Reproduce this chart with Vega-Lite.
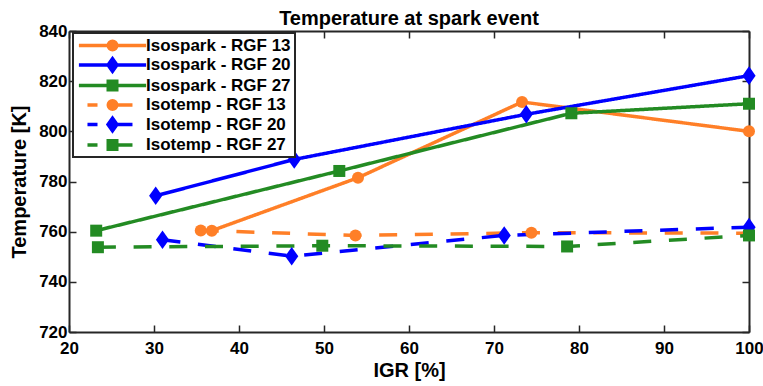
{
  "$schema": "https://vega.github.io/schema/vega-lite/v6.json",
  "width": 680,
  "height": 301,
  "autosize": "none",
  "padding": {"left": 69, "top": 31, "right": 14, "bottom": 54},
  "background": "white",
  "title": {"text": "Temperature at spark event", "font": "Liberation Sans", "fontSize": 20, "fontWeight": "bold", "color": "#000000", "offset": -7, "frame": "group"},
  "config": {
    "view": {"stroke": null},
    "axis": {
      "grid": false,
      "domainColor": "#262626",
      "domainWidth": 2,
      "tickColor": "#262626",
      "tickWidth": 1.5,
      "tickSize": -7,
      "labelFont": "Liberation Sans",
      "labelFontSize": 17,
      "labelFontWeight": "bold",
      "labelColor": "#000000",
      "titleFont": "Liberation Sans",
      "titleFontSize": 20,
      "titleFontWeight": "bold",
      "titleColor": "#000000"
    }
  },
  "data": {
    "values": [
      {"series": "Isospark - RGF 13", "igr": 36.8, "T": 760.4},
      {"series": "Isospark - RGF 13", "igr": 54.0, "T": 781.5},
      {"series": "Isospark - RGF 13", "igr": 73.3, "T": 811.7},
      {"series": "Isospark - RGF 13", "igr": 100, "T": 800.0},
      {"series": "Isospark - RGF 20", "igr": 30.2, "T": 774.3},
      {"series": "Isospark - RGF 20", "igr": 46.5, "T": 788.8},
      {"series": "Isospark - RGF 20", "igr": 73.8, "T": 806.8},
      {"series": "Isospark - RGF 20", "igr": 100, "T": 822.2},
      {"series": "Isospark - RGF 27", "igr": 23.2, "T": 760.4},
      {"series": "Isospark - RGF 27", "igr": 51.8, "T": 784.2},
      {"series": "Isospark - RGF 27", "igr": 79.1, "T": 807.2},
      {"series": "Isospark - RGF 27", "igr": 100, "T": 811.0},
      {"series": "Isotemp - RGF 13", "igr": 35.5, "T": 760.5},
      {"series": "Isotemp - RGF 13", "igr": 53.7, "T": 758.5},
      {"series": "Isotemp - RGF 13", "igr": 74.4, "T": 759.6},
      {"series": "Isotemp - RGF 13", "igr": 100, "T": 759.4},
      {"series": "Isotemp - RGF 20", "igr": 31.0, "T": 756.8},
      {"series": "Isotemp - RGF 20", "igr": 46.2, "T": 750.2},
      {"series": "Isotemp - RGF 20", "igr": 71.2, "T": 758.5},
      {"series": "Isotemp - RGF 20", "igr": 100, "T": 761.8},
      {"series": "Isotemp - RGF 27", "igr": 23.4, "T": 753.8},
      {"series": "Isotemp - RGF 27", "igr": 49.8, "T": 754.4},
      {"series": "Isotemp - RGF 27", "igr": 78.6, "T": 754.1},
      {"series": "Isotemp - RGF 27", "igr": 100, "T": 758.5}
    ]
  },
  "layer": [
    {
      "mark": {"type": "line", "strokeWidth": 3.5},
      "encoding": {
        "x": {"field": "igr", "type": "quantitative", "scale": {"domain": [20, 100], "nice": false},
              "axis": {"orient": "bottom", "values": [20, 30, 40, 50, 60, 70, 80, 90, 100], "labelFlush": false, "labelPadding": 15, "title": "IGR [%]", "titlePadding": 4}},
        "y": {"field": "T", "type": "quantitative", "scale": {"domain": [720, 840], "nice": false, "zero": false},
              "axis": {"orient": "left", "values": [720, 740, 760, 780, 800, 820, 840], "labelPadding": 9, "title": "Temperature [K]", "titlePadding": 9}},
        "color": {"field": "series", "type": "nominal",
          "scale": {"domain": ["Isospark - RGF 13", "Isospark - RGF 20", "Isospark - RGF 27", "Isotemp - RGF 13", "Isotemp - RGF 20", "Isotemp - RGF 27"],
                    "range": ["#FF7F27", "#0000FF", "#238B23", "#FF7F27", "#0000FF", "#238B23"]},
          "legend": {
            "orient": "none", "legendX": 4, "legendY": 2, "title": null, "direction": "vertical",
            "fillColor": "white", "strokeColor": "#262626", "padding": 4,
            "labelFont": "Liberation Sans", "labelFontSize": 17, "labelFontWeight": "bold", "labelColor": "#000000",
            "symbolSize": 144, "symbolStrokeWidth": 0, "symbolOffset": 27, "labelOffset": 25, "rowPadding": 1.5,
            "encode": {
              "legend": {"update": {"strokeWidth": {"value": 2}}},
              "symbols": {"update": {
                "shape": {"signal": "(indexof(datum.value, 'Isotemp') == 0 ? 'M-4.17,-0.29L-2.5,-0.29L-2.5,0.29L-4.17,0.29ZM0.83,-0.29L3.33,-0.29L3.33,0.29L0.83,0.29Z' : 'M-5.6,-0.29L5.6,-0.29L5.6,0.29L-5.6,0.29Z') + (indexof(datum.value, '13') > 0 ? 'M1,0L0.924,0.383L0.707,0.707L0.383,0.924L0,1L-0.383,0.924L-0.707,0.707L-0.924,0.383L-1,0L-0.924,-0.383L-0.707,-0.707L-0.383,-0.924L0,-1L0.383,-0.924L0.707,-0.707L0.924,-0.383Z' : indexof(datum.value, '20') > 0 ? 'M0,-1.55L1.1,0L0,1.55L-1.1,0Z' : 'M-1,-1L1,-1L1,1L-1,1Z')"},
                "fill": {"signal": "scale('color', datum.value)"},
                "stroke": {"value": "transparent"},
                "strokeWidth": {"value": 0},
                "opacity": {"value": 1},
                "fillOpacity": {"value": 1}
              }}
            }
          }
        },
        "strokeDash": {"field": "series", "type": "nominal",
          "scale": {"domain": ["Isospark - RGF 13", "Isospark - RGF 20", "Isospark - RGF 27", "Isotemp - RGF 13", "Isotemp - RGF 20", "Isotemp - RGF 27"],
                    "range": [[1, 0], [1, 0], [1, 0], [18, 17.7], [18, 17.7], [18, 17.7]]},
          "legend": null}
      }
    },
    {
      "transform": [{"filter": "indexof(datum.series, 'RGF 13') >= 0"}],
      "mark": {"type": "point", "shape": "circle", "filled": true, "size": 144, "opacity": 1},
      "encoding": {
        "x": {"field": "igr", "type": "quantitative", "axis": {"orient": "top", "values": [20, 30, 40, 50, 60, 70, 80, 90, 100], "labels": false, "title": null, "minExtent": 0, "maxExtent": 0}},
        "y": {"field": "T", "type": "quantitative", "axis": {"orient": "right", "values": [720, 740, 760, 780, 800, 820, 840], "labels": false, "title": null, "minExtent": 0, "maxExtent": 0}},
        "color": {"field": "series", "type": "nominal", "legend": null}
      }
    },
    {
      "transform": [{"filter": "indexof(datum.series, 'RGF 20') >= 0"}],
      "mark": {"type": "point", "shape": "M0,-1.55L1.1,0L0,1.55L-1.1,0Z", "filled": true, "size": 144, "opacity": 1},
      "encoding": {
        "x": {"field": "igr", "type": "quantitative", "axis": null},
        "y": {"field": "T", "type": "quantitative", "axis": null},
        "color": {"field": "series", "type": "nominal", "legend": null}
      }
    },
    {
      "transform": [{"filter": "indexof(datum.series, 'RGF 27') >= 0"}],
      "mark": {"type": "point", "shape": "square", "filled": true, "size": 144, "opacity": 1},
      "encoding": {
        "x": {"field": "igr", "type": "quantitative", "axis": null},
        "y": {"field": "T", "type": "quantitative", "axis": null},
        "color": {"field": "series", "type": "nominal", "legend": null}
      }
    }
  ],
  "resolve": {"axis": {"x": "independent", "y": "independent"}}
}
